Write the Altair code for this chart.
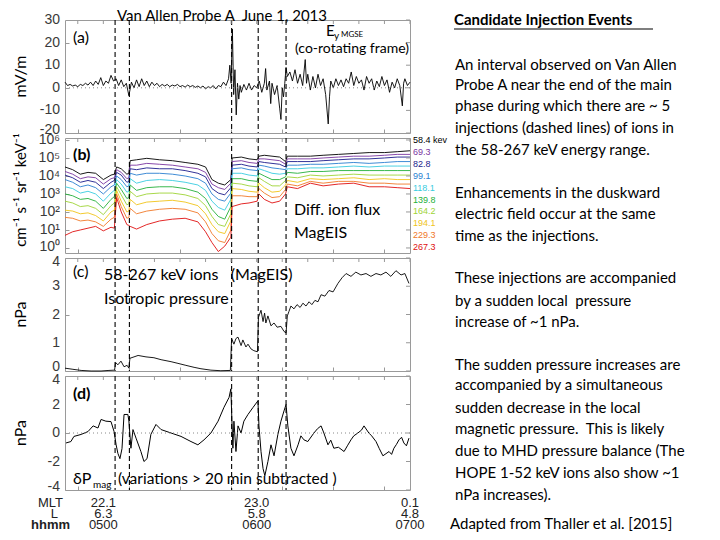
import altair as alt
import pandas as pd

# time coordinate: minutes after 04:45 UT, 2013-06-01
injection_times = [19.6, 25.2, 65.2, 75.6, 86.5]
minor_tick_times = [5, 15, 25, 35, 45, 55, 65, 75, 85, 95, 105, 115, 125, 135]
label_times = [15, 75, 135]
mlt_labels = ["22.1", "23.0", "0.1"]
l_labels = ["6.3", "5.8", "4.8"]
hhmm_labels = ["0500", "0600", "0700"]

# y tick values / labels of the four panels
a_ticks = [-20, -10, 0, 10, 20, 30]
b_ticks = [1, 10, 100, 1000, 10000, 100000, 1000000]
b_tick_labels = ["10\u2070", "10\u00b9", "10\u00b2", "10\u00b3", "10\u2074", "10\u2075", "10\u2076"]
c_ticks = [0, 1, 2, 3, 4]
d_ticks = [-4, -2, 0, 2, 4]

# (a) Ey MGSE, mV/m  (t, value)
ey_series = [
    (0, 2.5), (1, 1.0), (2, 1.5), (3, 0.8), (4, 1.2), (5, 0.5), (6, 1.5), (7, 1.0), (8, 2.0), (9, 1.2),
    (10, 2.5), (11, 1.0), (12, 3.0), (13, 1.5), (14, 4.5), (15, 1.0), (16, 3.0), (17, 2.0), (18, 5.5), (19, 3.0),
    (20, 4.0), (21, 1.0), (22, 3.5), (23, 0.5), (24, 2.0), (25, -3.5), (26, 2.5), (27, 0.0), (28, 3.5), (29, 0.5),
    (30, 4.0), (31, 1.0), (32, 3.0), (33, 0.5), (34, 2.5), (35, 1.0), (36, 2.0), (37, 0.5), (38, 1.5), (39, 0.8),
    (40, 1.5), (41, 0.5), (42, 1.2), (43, 0.8), (44, 1.5), (45, 0.5), (46, 1.0), (47, 0.3), (48, 1.2), (49, 0.5),
    (50, 1.0), (51, 0.2), (52, 0.8), (53, 0.0), (54, 0.8), (55, -0.5), (56, 0.5), (57, 0.0), (58, 1.0), (59, -0.5),
    (60, 1.0), (61, 0.5), (62, 2.5), (63, 1.0), (64, 4.0), (64.5, 10.0), (65, 2.0), (65.5, 26.0), (66, -3.0),
    (66.5, 8.0), (67, -12.0), (67.5, 2.0), (68, -5.0), (68.5, 1.0), (69, -2.0), (70, 1.5), (71, -1.0), (72, 2.0),
    (73, -1.0), (74, 1.0), (75, 0.0), (76, 3.0), (77, -2.0), (78, 2.0), (78.5, 8.5), (79, -1.0), (80, 3.0),
    (80.5, -7.0), (81, 2.0), (82, -3.0), (83, 1.0), (84, -9.0), (84.5, -14.0), (85, 0.0), (85.5, -4.0), (86, 2.0),
    (86.5, 9.0), (87, 5.0), (88, 7.0), (89, 3.0), (90, 8.0), (91, 2.0), (92, 6.0), (93, 1.0), (94, 12.5),
    (94.5, 2.0), (95, 6.0), (96, -1.0), (97, 5.0), (98, 0.0), (99, 6.0), (100, 1.0), (101, 4.0), (102, -3.0),
    (103, -16.0), (103.5, -4.0), (104, 3.0), (105, 0.0), (106, 4.0), (107, 1.0), (108, 3.5), (109, 0.5), (110, 4.0),
    (111, 2.0), (112, 7.0), (113, 1.0), (114, 5.0), (115, 2.0), (116, 3.5), (117, -1.0), (118, 5.0), (119, 2.0),
    (120, 4.0), (121, -1.0), (122, 3.0), (123, 0.5), (124, 5.0), (125, 1.0), (126, 3.5), (127, -2.0), (128, 2.5),
    (129, 0.0), (130, 4.0), (131, 1.0), (132, -8.0), (132.5, 2.0), (133, 4.0), (134, 1.0), (135, 2.5),
]

# (b) MagEIS differential ion flux, log10 values
flux_t = [0, 3, 6, 9, 12, 15, 18, 19.3, 20.2, 22, 24.2, 25.0, 25.5, 28, 32, 37, 42, 47, 52, 55, 57.5, 60, 62.5,
          64.9, 65.4, 69, 72, 75.2, 75.9, 78, 81, 84, 86.3, 87, 91, 96, 101, 107, 113, 119, 125, 130, 135]
flux_58 = [4.5, 4.35, 4.1, 4.2, 4.15, 3.8, 4.05, 4.1, 4.5, 4.4, 4.1, 4.15, 4.85, 4.9, 4.98, 4.9, 4.85, 4.75, 4.65, 4.5,
           3.8, 3.6, 3.5, 3.8, 5.0, 5.05, 4.95, 4.9, 5.1, 5.15, 5.1, 5.05, 4.8, 5.1, 5.1, 5.1, 5.15, 5.2, 5.25, 5.3,
           5.3, 5.35, 5.4]
flux_69 = [4.25, 4.1, 3.85, 3.95, 3.9, 3.55, 3.85, 3.9, 4.35, 4.2, 3.85, 3.9, 4.6, 4.6, 4.7, 4.65, 4.6, 4.5, 4.4, 4.2,
           3.55, 3.35, 3.25, 3.6, 4.8, 4.85, 4.75, 4.7, 4.95, 4.95, 4.9, 4.85, 4.65, 4.95, 4.95, 4.95, 5.0, 5.05, 5.1,
           5.1, 5.15, 5.2, 5.2]
flux_83 = [4.05, 3.9, 3.65, 3.75, 3.65, 3.3, 3.65, 3.75, 4.2, 4.05, 3.65, 3.7, 4.4, 4.35, 4.45, 4.4, 4.4, 4.3, 4.15,
           3.95, 3.3, 3.05, 2.95, 3.35, 4.6, 4.65, 4.55, 4.5, 4.8, 4.75, 4.7, 4.65, 4.5, 4.8, 4.8, 4.8, 4.85, 4.9,
           4.95, 4.95, 5.0, 5.05, 5.05]
flux_99 = [3.8, 3.65, 3.4, 3.5, 3.35, 3.0, 3.4, 3.5, 4.0, 3.8, 3.4, 3.45, 4.15, 4.05, 4.15, 4.15, 4.1, 4.0, 3.85, 3.6,
           3.0, 2.7, 2.6, 3.05, 4.4, 4.45, 4.35, 4.3, 4.6, 4.55, 4.45, 4.4, 4.35, 4.6, 4.6, 4.65, 4.65, 4.7, 4.75, 4.7,
           4.75, 4.8, 4.8]
flux_118 = [3.4, 3.3, 3.05, 3.15, 3.0, 2.6, 3.05, 3.2, 3.8, 3.55, 3.1, 3.15, 3.85, 3.6, 3.75, 3.8, 3.75, 3.65, 3.5,
            3.2, 2.6, 2.25, 2.1, 2.7, 4.15, 4.15, 4.05, 4.0, 4.4, 4.3, 4.15, 4.1, 4.15, 4.4, 4.4, 4.45, 4.45, 4.5,
            4.55, 4.5, 4.55, 4.55, 4.55]
flux_140 = [3.0, 2.9, 2.7, 2.75, 2.6, 2.2, 2.7, 2.85, 3.6, 3.25, 2.75, 2.8, 3.5, 3.2, 3.35, 3.4, 3.4, 3.3, 3.1, 2.75,
            2.15, 1.75, 1.6, 2.3, 3.85, 3.85, 3.75, 3.7, 4.15, 4.0, 3.8, 3.8, 3.95, 4.2, 4.15, 4.25, 4.25, 4.3, 4.3,
            4.3, 4.3, 4.3, 4.3]
flux_164 = [2.6, 2.5, 2.3, 2.35, 2.2, 1.85, 2.35, 2.5, 3.4, 2.95, 2.4, 2.45, 3.15, 2.85, 3.0, 3.05, 3.05, 2.95, 2.75,
            2.35, 1.75, 1.3, 1.2, 1.9, 3.6, 3.55, 3.45, 3.4, 3.9, 3.7, 3.45, 3.45, 3.75, 3.95, 3.9, 4.05, 4.0, 4.05,
            4.1, 4.05, 4.05, 4.05, 4.05]
flux_194 = [2.1, 2.05, 1.9, 1.95, 1.8, 1.5, 2.0, 2.1, 3.2, 2.6, 2.0, 2.05, 2.7, 2.4, 2.55, 2.6, 2.65, 2.55, 2.35, 1.9,
            1.3, 0.9, 0.8, 1.5, 3.3, 3.25, 3.15, 3.1, 3.6, 3.35, 3.1, 3.15, 3.5, 3.75, 3.65, 3.85, 3.8, 3.85, 3.9,
            3.8, 3.85, 3.8, 3.8]
flux_229 = [1.7, 1.65, 1.5, 1.55, 1.45, 1.2, 1.6, 1.7, 3.0, 2.3, 1.65, 1.7, 2.2, 1.9, 2.05, 2.15, 2.2, 2.15, 1.95,
            1.45, 0.8, 0.4, 0.3, 1.0, 2.9, 2.9, 2.85, 2.85, 3.3, 3.05, 2.8, 2.85, 3.25, 3.55, 3.45, 3.7, 3.6, 3.7,
            3.7, 3.6, 3.6, 3.55, 3.55]
flux_267 = [0.7, 0.9, 1.0, 1.1, 1.2, 0.95, 1.15, 1.1, 2.8, 2.0, 1.3, 1.25, 1.2, 1.05, 1.3, 1.5, 1.6, 1.65, 1.45, 0.9,
            0.3, -0.2, 0.1, 0.6, 2.3, 2.45, 2.5, 2.6, 3.0, 2.7, 2.5, 2.6, 3.0, 3.4, 3.3, 3.6, 3.45, 3.55, 3.6, 3.4,
            3.4, 3.35, 3.3]
energy_labels = ["58.4 kev", "69.3", "82.8", "99.1", "118.1", "139.8", "164.2", "194.1", "229.3", "267.3"]
energy_colors = ["#000000", "#7a35a0", "#1c1c8c", "#2a7fd0", "#38cce0", "#22b03a",
                 "#9ed436", "#f0c419", "#f07828", "#e01010"]
flux_curves = [flux_58, flux_69, flux_83, flux_99, flux_118, flux_140, flux_164, flux_194, flux_229, flux_267]

# (c) isotropic pressure, nPa (t, value)
pressure_series = [
    (0, 0.1), (3.1, 0.06), (6.3, 0.02), (10.2, 0.0), (14.1, 0.0), (17.2, 0.02), (19.4, 0.03), (19.8, 0.3),
    (20.7, 0.22), (21.9, 0.35), (23.1, 0.15), (24.3, 0.2), (25.0, 0.1), (25.4, 0.45), (27, 0.5), (28.6, 0.55),
    (31.7, 0.5), (34.8, 0.47), (37.6, 0.4), (41.5, 0.33), (44.2, 0.27), (47.3, 0.2), (50.5, 0.13), (53.2, 0.08),
    (57.1, 0.03), (61, 0.01), (64.7, 0.02), (65.2, 1.15), (66.1, 0.95), (66.9, 1.15), (67.7, 1.2), (68.9, 0.9),
    (69.6, 1.1), (70.8, 0.85), (71.6, 0.95), (72.8, 0.78), (73.9, 0.72), (75.3, 0.68), (75.7, 1.9), (76.7, 2.15),
    (77.5, 1.75), (78.1, 2.05), (78.6, 1.7), (79.4, 1.95), (80.6, 1.6), (81.8, 1.7), (83, 1.55), (84.5, 1.58),
    (85.7, 1.4), (86.5, 1.35), (87, 1.95), (87.6, 2.1), (88.4, 2.3), (89.6, 2.2), (90.8, 2.35), (92, 2.25),
    (93.1, 2.4), (94.3, 2.3), (95.5, 2.45), (96.6, 2.35), (97.8, 2.5), (99, 2.45), (100.2, 2.7), (101.7, 2.65),
    (103.3, 2.85), (104.9, 2.8), (106.8, 3.1), (108.4, 3.3), (110, 3.45), (111.9, 3.35), (113.8, 3.5),
    (115.8, 3.4), (117.8, 3.45), (119.7, 3.35), (121.7, 3.45), (123.6, 3.4), (125.6, 3.5), (127.5, 3.35),
    (129.5, 3.55), (131.5, 3.4), (133, 3.45), (134.6, 3.1),
]

# (d) delta P_mag, nPa (t, value)
dpmag_series = [
    (0.4, -0.7), (2.3, -0.6), (3.5, -0.24), (6.3, -0.1), (9.0, 0.1), (11.0, 0.5), (12.9, 0.35), (14.1, 0.95),
    (16.0, 0.83), (18.0, 0.8), (19.2, 0.1), (20.0, -0.83), (20.7, -1.43), (21.5, -1.8), (22.3, -1.1), (23.1, 1.3),
    (24.6, 1.3), (25.0, 0.85), (25.8, -1.07), (26.6, 0.24), (27.8, -0.36), (29.7, -1.3), (30.9, -2.0),
    (32.1, -1.8), (33.6, -0.1), (35.6, 0.6), (37.6, 0.24), (41.5, 0.0), (45.4, -0.24), (49.3, -0.6),
    (52.0, -0.83), (54.4, -0.48), (57.1, 0.0), (59.9, 0.83), (62.2, 1.8), (64.2, 2.5), (64.9, 3.1), (65.3, 0.95),
    (65.7, -1.07), (66.1, 0.83), (66.9, -1.3), (67.7, 0.5), (68.9, 0.0), (70.0, 0.83), (71.6, 1.3), (73.6, 1.8),
    (75.5, 2.26), (75.9, 0.5), (76.7, -1.3), (77.5, -2.5), (78.2, -3.0), (79.4, -2.0), (80.6, -0.83),
    (81.8, -1.6), (83.3, -0.1), (84.5, 0.83), (85.7, 1.55), (86.5, 2.0), (87.2, 0.5), (88.4, -1.07),
    (89.6, -1.6), (91.2, -0.83), (92.3, -0.2), (93.5, -0.48), (95.0, -0.6), (97.4, 0.0), (98.8, 0.3),
    (100.2, 0.5), (101.3, 0.0), (102.9, -0.83), (104.0, -0.5), (105.2, -1.07), (107.0, -1.0), (109.2, -1.3),
    (110.5, -0.9), (111.9, -0.48), (113.0, -0.2), (114.6, 0.0), (116.0, 0.2), (117.0, 0.5), (118.9, 0.0),
    (120.0, -0.2), (121.7, -0.6), (123.0, -1.1), (124.4, -1.6), (126.8, -1.3), (127.8, -1.5), (128.7, -1.07),
    (129.7, -0.8), (130.7, -0.48), (131.7, -0.3), (132.6, -0.7), (133.6, -0.9), (134.6, -0.36),
]

para_lines = [
    "An interval observed on Van Allen",
    "Probe A near the end of the main",
    "phase during which there are ~ 5",
    "injections (dashed lines) of ions in",
    "the 58-267 keV energy range.",
    "Enhancements in the duskward",
    "electric field occur at the same",
    "time as the injections.",
    "These injections are accompanied",
    "by a sudden local\u00a0 pressure",
    "increase of ~1 nPa.",
    "The sudden pressure increases are",
    "accompanied by a simultaneous",
    "sudden decrease in the local",
    "magnetic pressure.\u00a0 This is likely",
    "due to MHD pressure balance (The",
    "HOPE 1-52 keV ions also show ~1",
    "nPa increases).",
]
para_y_img = [64.6, 85.2, 105.8, 128, 150.3, 193.2, 213.8, 236, 278.3, 301.3, 321.8,
              364.7, 385.3, 407.6, 429.2, 450.5, 472.8, 495]

# ---------------------------------------------------------------- layout
W = 345
H_A, H_B, H_C, H_D = 113, 115, 113, 114
XDOM = [0, 135]
SANS = "Lato"
AX = "Liberation Sans"
LABEL_COLOR = "#3a3a3a"
TICK_COLOR = "#999999"
ONE = pd.DataFrame({"k": [0]})


def txt(s, x, y, size=15, weight="normal", align="left", color="black", font=SANS, angle=0):
    return alt.Chart(ONE).mark_text(
        text=s, fontSize=size, fontWeight=weight, align=align, color=color, font=font,
        angle=angle, baseline="middle"
    ).encode(x=alt.value(x), y=alt.value(y))


def xenc():
    return alt.X("t:Q", scale=alt.Scale(domain=XDOM, nice=False, zero=False),
                 axis=alt.Axis(values=minor_tick_times, labels=False, title=None, domain=False,
                               ticks=True, tickSize=4, offset=-4, grid=False))


def yaxis(values):
    return alt.Axis(values=values, title=None, domain=False, tickSize=4, offset=-4,
                    labels=False, grid=False)


def ylabels(field, values, texts=None, dy_first=0, dy_last=0):
    labs = texts if texts else [str(v) for v in values]
    out = []
    parts = [(values[1:-1], labs[1:-1], 0), (values[:1], labs[:1], dy_first), (values[-1:], labs[-1:], dy_last)]
    for vals, ls, dy in parts:
        df = pd.DataFrame({field: vals, "lab": ls})
        out.append(alt.Chart(df).mark_text(align="right", baseline="middle", font=AX, fontSize=14,
                                           color=LABEL_COLOR, dy=dy).encode(
            y=alt.Y(f"{field}:Q"), x=alt.value(-5), text="lab:N"))
    return out


def frame_ticks(field, values):
    top = alt.Chart(pd.DataFrame({"t": minor_tick_times})).mark_rule(color=TICK_COLOR).encode(
        x="t:Q", y=alt.value(0), y2=alt.value(4))
    right = alt.Chart(pd.DataFrame({field: values})).mark_rule(color=TICK_COLOR).encode(
        y=f"{field}:Q", x=alt.value(W - 4), x2=alt.value(W))
    return [top, right]


def dashes():
    return alt.Chart(pd.DataFrame({"t": injection_times})).mark_rule(
        color="black", strokeDash=[5, 3], strokeWidth=1.1).encode(x="t:Q")


# (a)
ey_df = pd.DataFrame(ey_series, columns=["t", "v"])
a_line = alt.Chart(ey_df).mark_line(color="black", strokeWidth=0.9).encode(
    x=xenc(),
    y=alt.Y("v:Q", scale=alt.Scale(domain=[-20, 30], nice=False, zero=False), axis=yaxis(a_ticks)))
a_zero = alt.Chart(pd.DataFrame({"v": [0]})).mark_rule(color="#888888", strokeDash=[1, 3]).encode(y="v:Q")
a_texts = ylabels("v", a_ticks, dy_first=-3) + frame_ticks("v", a_ticks) + [
    txt("Van Allen Probe A\u00a0 June 1, 2013", 157, -4.5, size=15, align="center"),
    txt("(a)", 8, 18, size=16),
    txt("E", 261, 11, size=15),
    txt("y", 269, 16, size=10),
    txt("MGSE", 276, 15, size=8),
    txt("(co-rotating frame)", 344, 29, size=14, align="right"),
    txt("mV/m", -44, H_A / 2, size=16, angle=270, align="center"),
    txt("Candidate Injection Events", 389, 0, size=15, weight="bold"),
    alt.Chart(ONE).mark_rule(color="black", strokeWidth=1.2).encode(
        x=alt.value(389), x2=alt.value(588), y=alt.value(9)),
    txt("Adapted from Thaller et al. [2015]", 385, 504, size=15),
]
for line, yi in zip(para_lines, para_y_img):
    a_texts.append(txt(line, 390, yi - 20, size=15))
panel_a = alt.layer(a_line, a_zero, dashes(), *a_texts).properties(width=W, height=H_A)

# (b)
rows = []
for name, curve in zip(energy_labels, flux_curves):
    for t, lv in zip(flux_t, curve):
        rows.append({"t": t, "flux": 10 ** lv, "energy": name})
flux_df = pd.DataFrame(rows)
b_lines = alt.Chart(flux_df).mark_line(strokeWidth=0.9).encode(
    x=xenc(),
    y=alt.Y("flux:Q", scale=alt.Scale(type="log", domain=[10 ** -0.28, 10 ** 6.11], nice=False),
            axis=yaxis(b_ticks)),
    color=alt.Color("energy:N", scale=alt.Scale(domain=energy_labels, range=energy_colors), legend=None),
)
b_texts = ylabels("flux", b_ticks, b_tick_labels, dy_first=-1, dy_last=0) + frame_ticks("flux", b_ticks) + [
    txt("(b)", 8, 17, size=16, weight="bold"),
    txt("Diff. ion flux", 229, 72, size=16),
    txt("MagEIS", 229, 95, size=16),
    txt("cm\u207b\u00b9 s\u207b\u00b9 sr\u207b\u00b9 keV\u207b\u00b9", -44, 52, size=15, angle=270, align="center"),
]
for i, (lab, col) in enumerate(zip(energy_labels, energy_colors)):
    b_texts.append(txt(lab, W + 3, 2 + 11.9 * i, size=9, font=AX, color=col))
panel_b = alt.layer(b_lines, dashes(), *b_texts).properties(width=W, height=H_B)

# (c)
p_df = pd.DataFrame(pressure_series, columns=["t", "p"])
c_line = alt.Chart(p_df).mark_line(color="black", strokeWidth=0.9).encode(
    x=xenc(),
    y=alt.Y("p:Q", scale=alt.Scale(domain=[0, 4], nice=False, zero=False), axis=yaxis(c_ticks)))
c_texts = ylabels("p", c_ticks, dy_first=-4, dy_last=4) + frame_ticks("p", c_ticks) + [
    txt("(c)", 8, 14, size=16),
    txt("58-267 keV ions\u00a0\u00a0 (MagEIS)", 39, 17, size=16),
    txt("Isotropic pressure", 39, 41, size=16),
    txt("nPa", -44, H_C / 2, size=16, angle=270, align="center"),
]
panel_c = alt.layer(c_line, dashes(), *c_texts).properties(width=W, height=H_C)

# (d)
d_df = pd.DataFrame(dpmag_series, columns=["t", "d"])
d_line = alt.Chart(d_df).mark_line(color="black", strokeWidth=1.0).encode(
    x=xenc(),
    y=alt.Y("d:Q", scale=alt.Scale(domain=[-4, 4], nice=False, zero=False), axis=yaxis(d_ticks)))
d_zero = alt.Chart(pd.DataFrame({"d": [0]})).mark_rule(color="#888888", strokeDash=[1, 3]).encode(y="d:Q")
bottom_df = pd.DataFrame({"t": label_times, "mlt": mlt_labels, "l": l_labels, "hhmm": hhmm_labels})
BOT = 13
ROW1, ROW2, ROW3 = H_D + 13, H_D + 24, H_D + 35
d_bottom = [
    alt.Chart(bottom_df).mark_text(font=AX, fontSize=BOT, baseline="middle", color="#222222").encode(
        x="t:Q", y=alt.value(ROW1), text="mlt:N"),
    alt.Chart(bottom_df).mark_text(font=AX, fontSize=BOT, baseline="middle", color="#222222").encode(
        x="t:Q", y=alt.value(ROW2), text="l:N"),
    alt.Chart(bottom_df).mark_text(font=AX, fontSize=BOT, baseline="middle", color="#222222").encode(
        x="t:Q", y=alt.value(ROW3), text="hhmm:N"),
]
d_texts = ylabels("d", d_ticks, dy_first=-3, dy_last=4) + frame_ticks("d", d_ticks) + [
    txt("(d)", 8, 18, size=16, weight="bold"),
    txt("\u03b4P", 8, 103, size=16),
    txt("mag", 28, 109, size=10),
    txt("(variations > 20 min subtracted )", 53, 103, size=15.5),
    txt("nPa", -44, H_D / 2, size=16, angle=270, align="center"),
    txt("MLT", -2, ROW1, size=BOT, font=AX, align="right", color="#222222"),
    txt("L", -7, ROW2, size=BOT, font=AX, align="right", color="#222222"),
    txt("hhmm", 5, ROW3, size=BOT, font=AX, align="right", weight="bold", color="#222222"),
]
panel_d = alt.layer(d_line, d_zero, dashes(), *d_bottom, *d_texts).properties(width=W, height=H_D)

chart = alt.vconcat(panel_a, panel_b, panel_c, panel_d, spacing=5, bounds="flush").properties(
    padding={"left": 4, "top": 0, "right": 0, "bottom": 0}
).configure_view(
    stroke="#9a9a9a", strokeWidth=1
).configure_axis(
    tickColor=TICK_COLOR, tickWidth=1
)

chart.save("out.html", embed_options={"renderer": "svg", "actions": False})
